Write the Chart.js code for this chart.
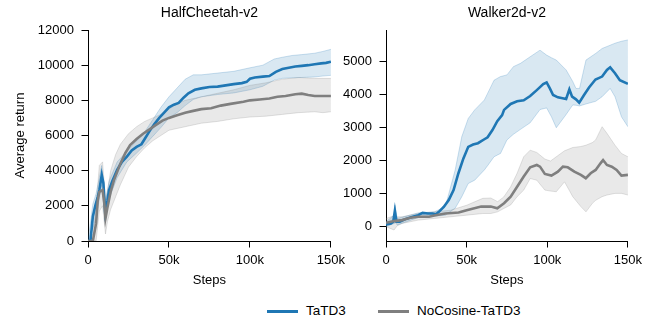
<html><head>
<script src="https://cdn.jsdelivr.net/npm/chart.js"></script>
<title>TaTD3 vs NoCosine-TaTD3</title>
<style>
body {
  margin: 0;
  background: #fff;
  font-family: "Liberation Sans", Arial, Helvetica, sans-serif;
}
#wrap {
  position: relative;
  width: 647px;
  height: 326px;
}
.panel {
  position: absolute;
  top: 0;
  height: 300px;
}
#left-panel { left: 0; width: 350px; }
#right-panel { left: 340px; width: 307px; }
.legend {
  position: absolute;
  top: 302px;
  left: 0;
  width: 647px;
  height: 20px;
  font-size: 13.5px;
  color: #000;
}
.legend .swatch {
  position: absolute;
  top: 8px;
  width: 31px;
  height: 3px;
}
.legend .label {
  position: absolute;
  top: 1px;
}
</style>
</head>
<body>
<div id="wrap">
  <div class="panel" id="left-panel"><canvas id="cheetah"></canvas></div>
  <div class="panel" id="right-panel"><canvas id="walker"></canvas></div>
  <div class="legend">
    <span class="swatch" style="left:267px;background:#1f77b4"></span>
    <span class="label" style="left:306px">TaTD3</span>
    <span class="swatch" style="left:378px;background:#7f7f7f"></span>
    <span class="label" style="left:417px">NoCosine-TaTD3</span>
  </div>
</div>

<script>
// steps are in thousands
const seriesNames = ['TaTD3', 'NoCosine-TaTD3'];
const xTicks = [0, 50, 100, 150];

// HalfCheetah-v2
const cheetahTaSteps = [0, 1.5, 3, 4.5, 6, 7, 8.5, 9.5, 10.6, 12, 13, 15, 18, 21, 24, 27, 30, 33, 35, 38, 41, 44, 47, 50, 53, 56, 59, 62, 66, 70, 75, 80, 85, 90, 95, 98, 100, 103, 108, 112, 116, 120, 124, 128, 132, 136, 140, 144, 147, 150];
const cheetahTaMean = [0, 0, 1400, 2000, 2500, 2900, 3750, 3300, 1650, 2300, 2900, 3400, 4050, 4500, 4800, 5150, 5350, 5500, 5800, 6250, 6650, 7000, 7300, 7600, 7750, 7850, 8150, 8400, 8600, 8680, 8760, 8780, 8850, 8920, 8980, 9050, 9230, 9300, 9350, 9380, 9620, 9780, 9850, 9920, 9960, 10000, 10050, 10100, 10130, 10200];
const cheetahTaBandSteps = [0, 3, 5, 8.5, 10.6, 13, 18, 24, 30, 35, 40, 45, 50, 55, 60, 65, 70, 80, 90, 100, 108, 115, 120, 126, 132, 140, 145, 150];
const cheetahTaUpper = [0, 2100, 2700, 4300, 2200, 3400, 4500, 5100, 5700, 6200, 6900, 7600, 8200, 8700, 9200, 9450, 9450, 9550, 9650, 9850, 10000, 10350, 10450, 10550, 10600, 10680, 10780, 10900];
const cheetahTaLower = [0, 700, 1300, 3200, 1100, 2400, 3600, 4500, 5000, 5450, 5950, 6450, 7000, 7300, 7700, 8050, 8200, 8330, 8420, 8600, 8800, 9150, 9250, 9280, 9300, 9330, 9380, 9420];

const cheetahNoSteps = [0, 3, 5, 6, 7, 9, 10, 10.8, 12, 14, 16, 20, 23, 26, 30, 34, 38, 42, 46, 50, 55, 60, 65, 70, 76, 82, 88, 96, 100, 106, 112, 117, 122, 128, 132, 136, 140, 145, 150];
const cheetahNoMean = [0, 0, 1000, 2300, 2800, 2900, 2200, 1300, 1900, 2800, 3450, 4400, 5000, 5450, 5800, 6100, 6350, 6600, 6850, 7000, 7150, 7300, 7400, 7500, 7550, 7700, 7800, 7920, 8000, 8050, 8100, 8200, 8250, 8350, 8380, 8300, 8250, 8250, 8250];
const cheetahNoBandSteps = [0, 3, 5, 7, 9, 10.8, 12, 14, 17, 20, 25, 30, 35, 40, 45, 50, 55, 60, 70, 80, 90, 100, 110, 120, 130, 140, 145, 150];
const cheetahNoUpper = [0, 400, 2000, 4300, 4500, 2300, 2800, 4000, 4900, 5500, 6100, 6500, 6800, 7000, 7200, 7500, 7800, 8000, 8200, 8400, 8600, 8850, 9000, 9200, 9300, 9250, 9250, 9250];
const cheetahNoLower = [0, 0, 0, 1700, 2000, 400, 1100, 1800, 2500, 3200, 4200, 4800, 5300, 5700, 6000, 6300, 6400, 6500, 6700, 6800, 6950, 7050, 7100, 7200, 7300, 7350, 7300, 7350];

// Walker2d-v2
const walkerTaSteps = [0, 3, 4.5, 5.5, 6.5, 8.5, 12, 16.6, 20, 22.7, 26, 28.7, 31, 32.8, 35.8, 38.9, 41.9, 44.9, 48, 51, 54, 57, 61, 63, 66, 69, 72, 73.2, 77.3, 81.3, 85.4, 89.4, 93.5, 97.5, 99.6, 101.6, 103.6, 106.6, 111.7, 113.7, 115.4, 117.8, 119.8, 122.8, 125.9, 129.9, 134, 137, 139, 142, 145, 150];
const walkerTaMean = [70, 100, 150, 480, 150, 150, 230, 300, 350, 420, 400, 400, 380, 450, 600, 810, 1110, 1620, 2070, 2420, 2490, 2530, 2650, 2710, 2930, 3200, 3380, 3540, 3720, 3800, 3830, 3960, 4140, 4320, 4370, 4190, 3990, 3920, 3870, 4160, 3940, 3860, 3760, 3990, 4220, 4460, 4550, 4750, 4830, 4650, 4440, 4330];
const walkerTaBandSteps = [0, 5, 5.5, 7, 20, 30, 36.8, 42.9, 47, 51, 55, 61, 63, 67, 71, 75, 79, 83.4, 89.4, 95.5, 99.6, 102.6, 105.6, 111.7, 115.8, 117.8, 120, 124, 130, 134, 139, 142, 146, 150];
const walkerTaUpper = [150, 350, 650, 250, 420, 450, 610, 1720, 2730, 3280, 3540, 3840, 4040, 4440, 4550, 4600, 4850, 4950, 5150, 5350, 5200, 5120, 5050, 4750, 4400, 4190, 4190, 5050, 5250, 5400, 5500, 5560, 5620, 5660];
const walkerTaLower = [0, 100, 150, 50, 280, 320, 350, 560, 910, 1310, 1410, 1720, 1850, 2120, 2220, 2630, 2800, 2950, 3150, 3550, 3600, 3330, 3000, 3400, 3690, 3680, 3660, 3720, 3800, 3940, 4190, 3940, 3330, 3030];

const walkerNoSteps = [0, 5, 10, 15, 20, 26.7, 30, 36.8, 45, 50, 53, 59, 65, 69, 73.2, 77.3, 81.3, 85.4, 89.4, 93.5, 95.5, 98.5, 102.6, 106.6, 109.7, 112.7, 116.8, 120.8, 123.9, 126.9, 130, 133, 134.6, 137, 140, 143, 146, 150];
const walkerNoMean = [120, 170, 200, 270, 300, 300, 340, 400, 430, 500, 540, 610, 610, 560, 710, 910, 1210, 1520, 1800, 1870, 1820, 1600, 1550, 1670, 1820, 1800, 1670, 1570, 1470, 1620, 1720, 1920, 2020, 1870, 1820, 1720, 1550, 1570];
const walkerNoBandSteps = [0, 5, 7, 10, 20, 30, 40, 50, 60, 65, 69.2, 73, 77.3, 81.3, 85.4, 89.4, 93.5, 98.5, 102, 105.6, 110.7, 115.8, 120.8, 124, 128, 130, 134, 137, 142, 146, 150];
const walkerNoUpper = [250, 330, 300, 300, 400, 450, 500, 650, 860, 870, 760, 900, 1210, 1620, 2120, 2320, 2250, 2050, 1990, 2120, 2300, 2400, 2430, 2470, 2550, 2630, 3030, 2830, 2470, 2220, 2120];
const walkerNoLower = [0, -100, 30, 100, 200, 250, 300, 350, 400, 400, 450, 550, 660, 910, 1110, 1460, 1410, 1110, 1080, 1060, 1360, 910, 610, 450, 710, 800, 910, 960, 1010, 1010, 960];

const cheetahYTicks = [0, 2000, 4000, 6000, 8000, 10000, 12000];
const walkerYTicks = [0, 1000, 2000, 3000, 4000, 5000];

const BLUE = '#1f77b4';
const GRAY = '#7f7f7f';
const FONT = '"Liberation Sans", Arial, Helvetica, sans-serif';

function pts(xs, ys) {
  return xs.map((x, i) => ({x: x, y: ys[i]}));
}

function makeDatasets(ta, no) {
  return [
    {label: seriesNames[1], data: pts(no.steps, no.mean), borderColor: GRAY, borderWidth: 2.6, fill: false},
    {label: seriesNames[0], data: pts(ta.steps, ta.mean), borderColor: BLUE, borderWidth: 2.6, fill: false},
    {label: 'no-upper', data: pts(no.bandSteps, no.upper), borderColor: 'rgba(127,127,127,0.22)', borderWidth: 1,
      backgroundColor: 'rgba(127,127,127,0.17)', fill: '+1'},
    {label: 'no-lower', data: pts(no.bandSteps, no.lower), borderColor: 'rgba(127,127,127,0.22)', borderWidth: 1, fill: false},
    {label: 'ta-upper', data: pts(ta.bandSteps, ta.upper), borderColor: 'rgba(31,119,180,0.22)', borderWidth: 1,
      backgroundColor: 'rgba(31,119,180,0.17)', fill: '+1'},
    {label: 'ta-lower', data: pts(ta.bandSteps, ta.lower), borderColor: 'rgba(31,119,180,0.22)', borderWidth: 1, fill: false}
  ];
}

function makeChart(id, opts) {
  return new Chart(document.getElementById(id), {
    type: 'line',
    data: {datasets: makeDatasets(opts.ta, opts.no)},
    options: {
      responsive: true,
      maintainAspectRatio: false,
      animation: false,
      devicePixelRatio: 1,
      elements: {point: {radius: 0}, line: {tension: 0}},
      layout: {padding: {left: 0, right: opts.padRight, top: 0, bottom: 0}},
      plugins: {
        legend: {display: false},
        tooltip: {enabled: false},
        title: {
          display: true,
          text: opts.title,
          fullSize: false,
          color: '#000',
          font: {family: FONT, size: 14, weight: 'normal'},
          padding: {top: 5, bottom: 8.2}
        }
      },
      scales: {
        x: {
          type: 'linear',
          min: 0,
          max: 150,
          afterBuildTicks: s => { s.ticks = xTicks.map(v => ({value: v})); },
          afterFit: s => { s.height = 59; },
          ticks: {
            color: '#000',
            padding: 5,
            maxRotation: 0,
            font: {family: FONT, size: 13},
            callback: v => v === 0 ? '0' : v + 'k'
          },
          grid: {drawOnChartArea: false, drawTicks: true, tickLength: 6.5, color: '#000', lineWidth: 1},
          border: {display: true, color: '#000', width: 1},
          title: {display: true, text: 'Steps', color: '#000', font: {family: FONT, size: 13}, padding: {top: 0, bottom: 11.5}}
        },
        y: {
          type: 'linear',
          min: opts.yMin,
          max: opts.yMax,
          afterBuildTicks: s => { s.ticks = opts.yTicks.map(v => ({value: v})); },
          afterFit: s => { s.width = opts.yWidth; },
          ticks: {color: '#000', padding: 7.5, font: {family: FONT, size: 13}, callback: v => String(v)},
          grid: {drawOnChartArea: false, drawTicks: true, tickLength: 6.5, color: '#000', lineWidth: 1},
          border: {display: true, color: '#000', width: 1},
          title: {display: !!opts.yTitle, text: opts.yTitle || '', color: '#000', font: {family: FONT, size: 13}, padding: {top: 12.5, bottom: 0}}
        }
      }
    }
  });
}

makeChart('cheetah', {
  title: 'HalfCheetah-v2',
  yTitle: 'Average return',
  yMin: 0, yMax: 12000, yTicks: cheetahYTicks, yWidth: 88, padRight: 15,
  ta: {steps: cheetahTaSteps, mean: cheetahTaMean, bandSteps: cheetahTaBandSteps, upper: cheetahTaUpper, lower: cheetahTaLower},
  no: {steps: cheetahNoSteps, mean: cheetahNoMean, bandSteps: cheetahNoBandSteps, upper: cheetahNoUpper, lower: cheetahNoLower}
});

makeChart('walker', {
  title: 'Walker2d-v2',
  yMin: -433, yMax: 5961, yTicks: walkerYTicks, yWidth: 46, padRight: 14,
  ta: {steps: walkerTaSteps, mean: walkerTaMean, bandSteps: walkerTaBandSteps, upper: walkerTaUpper, lower: walkerTaLower},
  no: {steps: walkerNoSteps, mean: walkerNoMean, bandSteps: walkerNoBandSteps, upper: walkerNoUpper, lower: walkerNoLower}
});
</script>
</body></html>
